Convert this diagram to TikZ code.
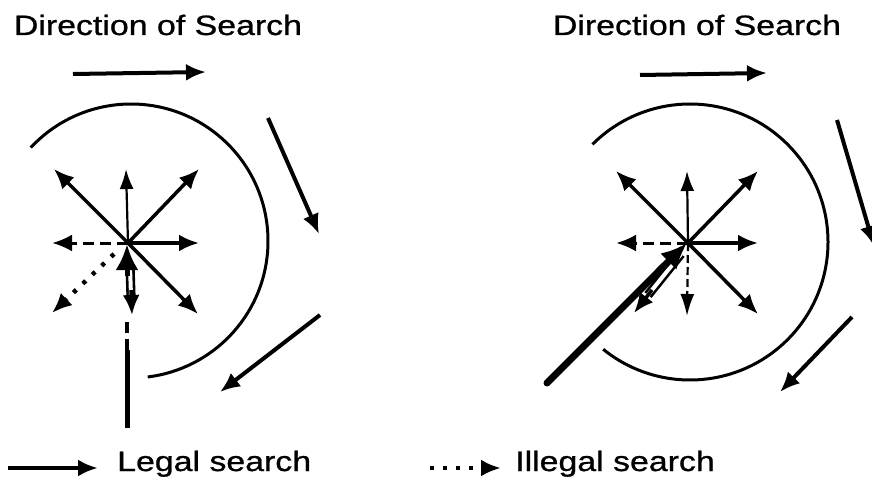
\documentclass[tikz,border=0pt]{standalone}
\usepackage{fontspec}
\setmainfont{Liberation Sans}[FakeBold=0.8]
\usepackage{graphicx}
\usetikzlibrary{arrows.meta}
\begin{document}
\begin{tikzpicture}[x=1pt,y=-1pt,
  tip/.style={-{Latex[length=20pt,width=17pt]}},
  mainarrow/.style={line width=3.5pt, tip},
  thinarrow/.style={line width=2.2pt, -{Latex[length=20pt,width=14pt]}},
  dasharrow/.style={line width=3pt, dash pattern=on 11pt off 6pt, tip},
  thindash/.style={line width=2.2pt, dash pattern=on 8pt off 4pt, -{Latex[length=22pt,width=14pt]}},
  dotarrow/.style={line width=4.5pt, dash pattern=on 4pt off 9pt, tip},
  ring/.style={line width=3pt},
  flow/.style={line width=4pt, -{Latex[length=20pt,width=17pt]}},
  path/.style={line width=5pt},
  pathhead/.style={line width=5pt, -{Latex[length=26pt,width=23pt]}},
  hollow/.style={line width=2.6pt, double=white, double distance=4pt},
  label/.style={font=\fontsize{28}{34}\selectfont, inner sep=0pt},
]
\path[use as bounding box] (0,0) rectangle (872,489);
\clip (0,0) rectangle (872,489);

% ---------- titles ----------
\node[label, anchor=base] (t1) at (158,35) {\scalebox{1.21}[1]{Direction of Search}};
\node[label, anchor=base] (t2) at (697,35) {\scalebox{1.21}[1]{Direction of Search}};

% ---------- left diagram ----------
\coordinate (c1) at (128,243);
\coordinate (h1a) at (73,74);   \coordinate (h1b) at (206,72);
\draw[flow] (h1a) -- (h1b);
\draw[ring] (131,241) ++(-137:137) arc[start angle=-137, end angle=83, radius=137];
\coordinate (r1a) at (268,118); \coordinate (r1b) at (319,234);
\draw[flow] (r1a) -- (r1b);
\coordinate (s1a) at (320,315); \coordinate (s1b) at (220,392);
\draw[flow] (s1a) -- (s1b);

% incoming path from below
\coordinate (p1a) at (127,428); \coordinate (p1b) at (127,350);
\coordinate (p1c) at (127,318);
\draw[path] (p1a) -- (p1b);
\draw[line width=4pt, dash pattern=on 11pt off 6pt] (p1b) -- (p1c);

\coordinate (u1) at (126,169);  \coordinate (ul1) at (54,169);
\coordinate (ur1) at (199,169); \coordinate (l1) at (52,243);
\coordinate (rr1) at (199,243); \coordinate (dr1) at (198,314);
\coordinate (dl1) at (52,313);
\draw[thinarrow] (c1) -- (u1);
\draw[mainarrow] (c1) -- (ul1);
\draw[mainarrow] (c1) -- (ur1);
\draw[dasharrow] (c1) -- (l1);
\draw[mainarrow] (c1) -- (rr1);
\draw[mainarrow] (c1) -- (dr1);
\draw[dotarrow] ([shift={(-14,11)}]c1) -- (dl1);
% back arrow (hollow) downwards
\coordinate (d1a) at (130,266); \coordinate (d1b) at (131,296); \coordinate (d1c) at (132,315);
\draw[hollow] (d1a) -- (d1b);
\draw[mainarrow] (131,290) -- (d1c);
% head of incoming path
\draw[pathhead] (127,276) -- (127,244);

% ---------- right diagram ----------
\coordinate (c2) at (688,243);
\coordinate (h2a) at (640,75);  \coordinate (h2b) at (767,73);
\draw[flow] (h2a) -- (h2b);
\draw[ring] (690,242) ++(-135:138) arc[start angle=-135, end angle=129, radius=138];
\coordinate (r2a) at (837,120); \coordinate (r2b) at (874,246);
\draw[flow] (r2a) -- (r2b);
\coordinate (s2a) at (852,317); \coordinate (s2b) at (780,392);
\draw[flow] (s2a) -- (s2b);

\coordinate (u2) at (687,171);  \coordinate (ul2) at (616,171);
\coordinate (ur2) at (758,171); \coordinate (l2) at (616,243);
\coordinate (rr2) at (758,243); \coordinate (dr2) at (758,314);
\coordinate (d2) at (687,316);
\draw[thinarrow] (c2) -- (u2);
\draw[mainarrow] (c2) -- (ul2);
\draw[mainarrow] (c2) -- (ur2);
\draw[dasharrow] (c2) -- (l2);
\draw[mainarrow] (c2) -- (rr2);
\draw[mainarrow] (c2) -- (dr2);
\draw[thindash] (c2) -- (d2);

% incoming path from lower left
\coordinate (p2a) at (547,383); \coordinate (p2b) at (664,266);
\draw[path, line width=7pt, line cap=round] (p2a) -- (p2b);
% back arrow (hollow) down-left
\coordinate (d2a) at (681,254); \coordinate (d2b) at (648,295); \coordinate (d2c) at (634,313);
\draw[hollow] (d2a) -- (d2b);
\draw[mainarrow] (652,290) -- (d2c);
\draw[pathhead, line width=7pt] (658,272) -- (687,243);

% ---------- legend ----------
\coordinate (la) at (8,468);   \coordinate (lb) at (98,468);
\draw[flow] (la) -- (lb);
\node[label, anchor=base west] (lg1) at (117,471) {\scalebox{1.21}[1]{Legal search}};
\coordinate (ia) at (430,468); \coordinate (ib) at (501,468);
\draw[dotarrow] (ia) -- (ib);
\node[label, anchor=base west] (lg2) at (515,471) {\scalebox{1.21}[1]{Illegal search}};
\end{tikzpicture}
\end{document}
